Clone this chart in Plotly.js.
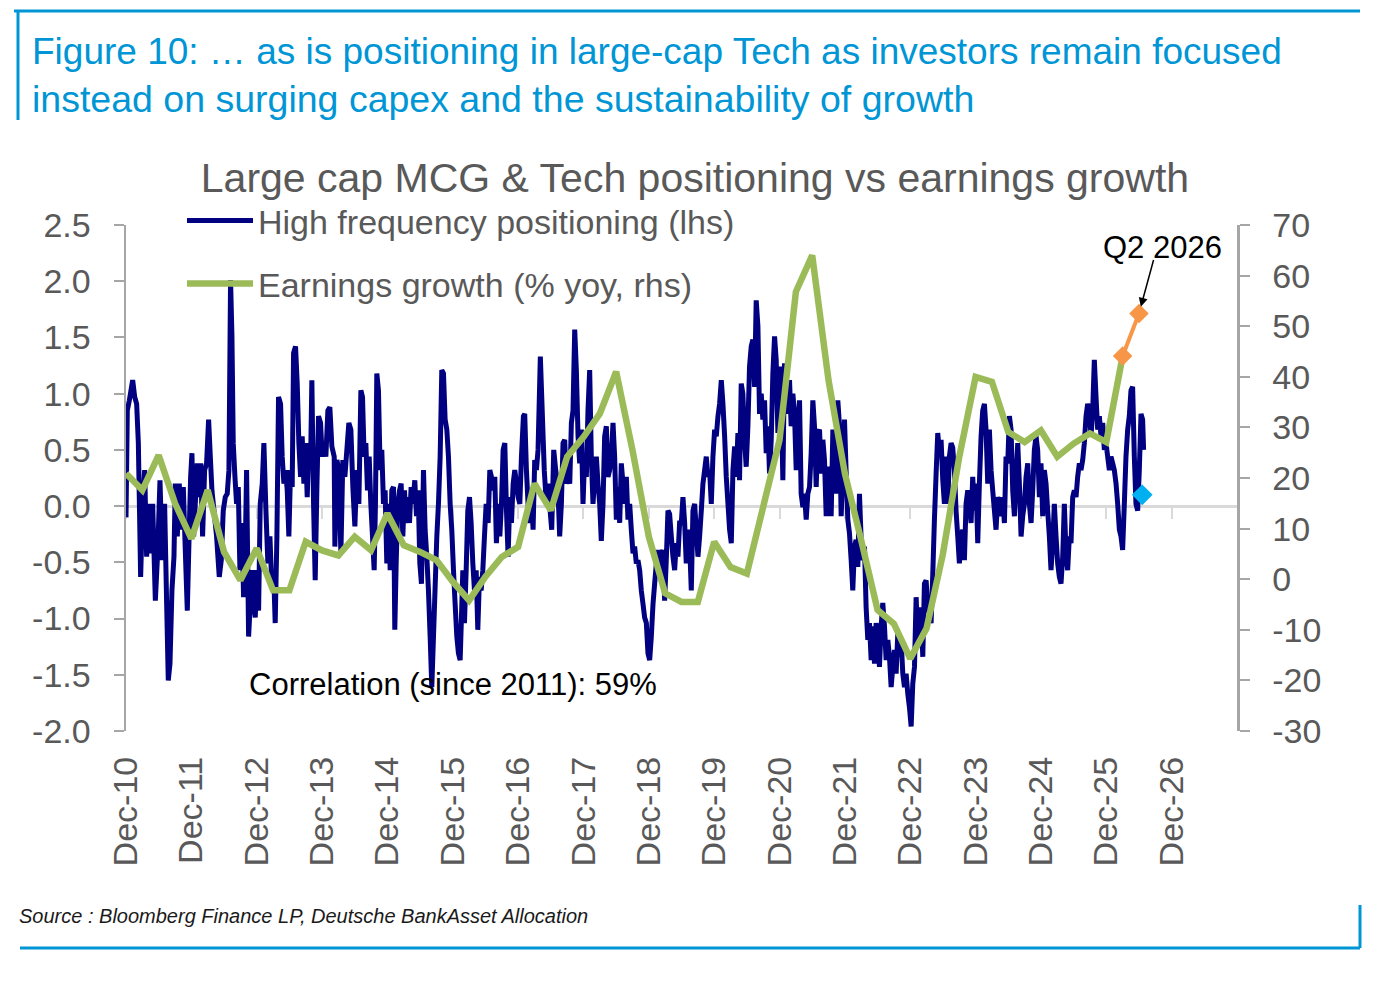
<!DOCTYPE html>
<html>
<head>
<meta charset="utf-8">
<script src="https://cdn.plot.ly/plotly-3.0.1.min.js"></script>
<style>
  html, body { margin: 0; padding: 0; background: #fff; }
  #chart { width: 1380px; height: 1008px; }
</style>
</head>
<body>
<div id="chart"></div>
<script>
// time axis: years since Dec-2010
const START_YEAR = 2010 + 11 / 12;

const TICK_LABELS = [
  'Dec-10', 'Dec-11', 'Dec-12', 'Dec-13', 'Dec-14', 'Dec-15', 'Dec-16', 'Dec-17',
  'Dec-18', 'Dec-19', 'Dec-20', 'Dec-21', 'Dec-22', 'Dec-23', 'Dec-24', 'Dec-25', 'Dec-26',
];
const LHS_TICKS = [-2, -1.5, -1, -0.5, 0, 0.5, 1, 1.5, 2, 2.5];
const RHS_TICKS = [-30, -20, -10, 0, 10, 20, 30, 40, 50, 60, 70];

// High frequency positioning (lhs)
const posT = [
  0.000, 0.020, 0.051, 0.102, 0.133, 0.163, 0.189, 0.224, 0.255, 0.285, 0.316, 0.347, 0.377, 0.408, 0.449, 0.484,
  0.520, 0.556, 0.591, 0.622, 0.647, 0.673, 0.703, 0.734, 0.754, 0.785, 0.815, 0.846, 0.877, 0.907, 0.938, 0.968,
  0.989, 1.009, 1.035, 1.060, 1.091, 1.116, 1.142, 1.172, 1.203, 1.233, 1.264, 1.290, 1.315, 1.346, 1.386, 1.427,
  1.458, 1.488, 1.519, 1.549, 1.575, 1.600, 1.621, 1.641, 1.667, 1.692, 1.718, 1.743, 1.774, 1.799, 1.825, 1.845,
  1.876, 1.901, 1.927, 1.952, 1.978, 2.003, 2.029, 2.054, 2.085, 2.110, 2.141, 2.171, 2.202, 2.232, 2.258, 2.283,
  2.309, 2.334, 2.365, 2.390, 2.416, 2.441, 2.467, 2.492, 2.518, 2.543, 2.564, 2.594, 2.620, 2.645, 2.671, 2.696,
  2.722, 2.747, 2.773, 2.798, 2.824, 2.844, 2.870, 2.895, 2.921, 2.946, 2.977, 3.002, 3.028, 3.058, 3.089, 3.119,
  3.150, 3.186, 3.196, 3.227, 3.257, 3.288, 3.318, 3.349, 3.410, 3.441, 3.471, 3.502, 3.532, 3.563, 3.594, 3.619,
  3.644, 3.670, 3.695, 3.721, 3.746, 3.772, 3.797, 3.817, 3.838, 3.863, 3.889, 3.914, 3.940, 3.965, 3.991, 4.016,
  4.042, 4.067, 4.093, 4.113, 4.134, 4.159, 4.185, 4.210, 4.236, 4.261, 4.287, 4.312, 4.338, 4.363, 4.389, 4.419,
  4.445, 4.470, 4.496, 4.521, 4.552, 4.577, 4.603, 4.628, 4.654, 4.679, 4.705, 4.730, 4.756, 4.781, 4.807, 4.832,
  4.858, 4.883, 4.909, 4.934, 4.960, 4.985, 5.011, 5.036, 5.062, 5.087, 5.113, 5.133, 5.154, 5.179, 5.205, 5.230,
  5.256, 5.281, 5.307, 5.332, 5.358, 5.383, 5.409, 5.434, 5.460, 5.485, 5.511, 5.541, 5.567, 5.592, 5.618, 5.643,
  5.668, 5.694, 5.720, 5.745, 5.771, 5.796, 5.822, 5.847, 5.873, 5.898, 5.924, 5.949, 5.975, 6.000, 6.026, 6.051,
  6.081, 6.101, 6.127, 6.152, 6.178, 6.203, 6.229, 6.254, 6.280, 6.305, 6.340, 6.400, 6.432, 6.463, 6.494, 6.514,
  6.545, 6.575, 6.606, 6.636, 6.662, 6.687, 6.713, 6.738, 6.764, 6.790, 6.815, 6.840, 6.866, 6.891, 6.917, 6.942,
  6.968, 6.993, 7.018, 7.044, 7.069, 7.095, 7.120, 7.146, 7.171, 7.197, 7.222, 7.248, 7.273, 7.299, 7.324, 7.350,
  7.375, 7.401, 7.426, 7.452, 7.477, 7.503, 7.528, 7.554, 7.579, 7.605, 7.630, 7.656, 7.681, 7.707, 7.732, 7.758,
  7.783, 7.809, 7.834, 7.860, 7.885, 7.911, 7.936, 7.962, 7.987, 8.013, 8.038, 8.064, 8.089, 8.115, 8.140, 8.166,
  8.191, 8.216, 8.242, 8.267, 8.293, 8.318, 8.344, 8.369, 8.395, 8.420, 8.446, 8.471, 8.497, 8.522, 8.548, 8.573,
  8.599, 8.624, 8.650, 8.675, 8.701, 8.726, 8.752, 8.777, 8.803, 8.828, 8.854, 8.879, 8.905, 8.930, 8.956, 8.981,
  9.007, 9.032, 9.058, 9.083, 9.109, 9.134, 9.160, 9.185, 9.211, 9.236, 9.262, 9.287, 9.313, 9.338, 9.363, 9.388,
  9.414, 9.439, 9.465, 9.490, 9.516, 9.541, 9.567, 9.592, 9.618, 9.643, 9.669, 9.694, 9.720, 9.745, 9.771, 9.796,
  9.822, 9.847, 9.873, 9.898, 9.924, 9.949, 9.975, 10.000, 10.025, 10.051, 10.076, 10.102, 10.127, 10.153, 10.178, 10.204,
  10.229, 10.255, 10.280, 10.306, 10.331, 10.357, 10.382, 10.408, 10.433, 10.459, 10.484, 10.510, 10.535, 10.561, 10.586, 10.612,
  10.637, 10.663, 10.688, 10.714, 10.739, 10.765, 10.790, 10.816, 10.841, 10.867, 10.892, 10.918, 10.943, 10.969, 10.994, 11.020,
  11.045, 11.070, 11.096, 11.121, 11.147, 11.172, 11.198, 11.223, 11.249, 11.274, 11.300, 11.325, 11.351, 11.376, 11.402, 11.427,
  11.453, 11.478, 11.504, 11.529, 11.555, 11.580, 11.606, 11.631, 11.657, 11.682, 11.708, 11.733, 11.759, 11.784, 11.810, 11.835,
  11.861, 11.886, 11.912, 11.937, 11.963, 11.988, 12.014, 12.039, 12.065, 12.090, 12.116, 12.141, 12.166, 12.192, 12.217, 12.243,
  12.268, 12.294, 12.319, 12.345, 12.370, 12.396, 12.421, 12.447, 12.472, 12.498, 12.523, 12.548, 12.574, 12.599, 12.625, 12.650,
  12.676, 12.701, 12.727, 12.752, 12.778, 12.803, 12.829, 12.854, 12.880, 12.905, 12.931, 12.956, 12.982, 13.007, 13.033, 13.058,
  13.084, 13.109, 13.135, 13.160, 13.186, 13.211, 13.237, 13.262, 13.288, 13.313, 13.339, 13.364, 13.390, 13.415, 13.441, 13.466,
  13.492, 13.517, 13.543, 13.568, 13.594, 13.619, 13.645, 13.670, 13.696, 13.721, 13.747, 13.772, 13.798, 13.823, 13.849, 13.874,
  13.899, 13.925, 13.950, 13.976, 14.001, 14.027, 14.052, 14.078, 14.103, 14.129, 14.154, 14.180, 14.205, 14.231, 14.256, 14.282,
  14.307, 14.333, 14.358, 14.384, 14.409, 14.435, 14.460, 14.486, 14.511, 14.537, 14.562, 14.588, 14.613, 14.639, 14.664, 14.690,
  14.715, 14.741, 14.766, 14.792, 14.817, 14.843, 14.868, 14.894, 14.919, 14.945, 14.970, 14.996, 15.021, 15.047, 15.072, 15.098,
  15.123, 15.149, 15.174, 15.200, 15.225, 15.250, 15.276, 15.301, 15.327, 15.352, 15.378, 15.403, 15.429, 15.454, 15.480, 15.505,
  15.531, 15.556, 15.571,
];
const posV = [
  -0.10, 0.85, 0.94, 1.12, 0.97, 0.91, 0.56, -0.63, 0.02, 0.32, -0.45, 0.02, -0.42, 0.02, -0.84, -0.42,
  0.23, -0.48, 0.02, -0.87, -1.55, -1.40, -0.75, -0.45, 0.20, -0.27, 0.20, -0.21, 0.17, -0.39, -0.93, -0.21,
  0.26, 0.47, -0.27, 0.02, 0.38, 0.08, 0.38, -0.27, 0.32, 0.38, 0.77, 0.44, 0.14, -0.04, -0.27, -0.63,
  -0.48, -0.04, 0.08, 0.11, 0.32, 2.01, 1.51, 0.56, 0.26, 0.02, 0.17, -0.57, -0.15, -0.81, -0.39, 0.32,
  -1.16, -0.87, -0.57, -0.87, -0.99, -0.57, -0.93, 0.02, 0.20, 0.56, -0.04, -0.51, -0.27, -0.72, -0.57, -1.04,
  -0.27, 0.97, 0.91, 0.44, 0.20, 0.32, 0.14, -0.27, 0.32, 0.17, 1.36, 1.42, 1.09, 0.56, 0.26, 0.62,
  0.20, 0.56, 0.08, 0.56, 0.38, 1.12, 0.02, -0.66, 0.17, 0.80, 0.74, 0.44, 0.56, 0.44, 0.85, 0.88,
  0.53, 0.44, -0.36, 0.41, 0.32, -0.42, 0.41, 0.26, 0.74, 0.68, 0.17, -0.18, 0.32, 0.02, 1.03, 0.97,
  0.44, 0.56, 0.14, 0.44, 0.02, -0.27, -0.57, 0.02, 1.18, 1.03, 0.32, 0.50, 0.02, 0.14, -0.51, 0.02,
  -0.57, 0.14, 0.17, -1.10, -0.51, 0.02, 0.14, 0.20, -0.27, 0.14, -0.15, 0.08, -0.15, 0.17, 0.02, 0.23,
  -0.09, 0.14, -0.51, -0.69, 0.32, -0.21, -0.45, -0.75, -1.16, -1.61, -1.16, -0.72, -0.27, 0.02, 0.44, 1.21,
  1.18, 0.77, 0.68, 0.44, 0.02, -0.21, -0.57, -0.87, -1.16, -1.31, -1.37, -0.99, -0.57, -1.04, -0.57, -0.04,
  0.08, -0.15, -0.51, -0.75, -0.57, -1.10, -0.63, -0.75, -0.57, -0.27, 0.02, -0.15, 0.32, 0.26, 0.14, 0.26,
  -0.33, 0.02, -0.27, 0.02, 0.50, 0.56, -0.04, -0.45, 0.08, -0.15, 0.20, 0.32, 0.20, 0.08, 0.02, 0.44,
  0.80, 0.82, 0.32, 0.02, -0.15, 0.08, -0.21, 0.41, 0.32, 0.50, 1.33, 0.32, 0.02, 0.20, -0.07, -0.21,
  0.50, 0.32, 0.20, -0.27, 0.02, 0.56, 0.59, 0.20, 0.26, 0.20, 0.74, 0.85, 1.57, 1.21, 0.62, 0.38,
  0.68, 0.02, 0.44, 0.26, 0.85, 1.21, 0.44, 0.02, 0.26, 0.44, 0.20, 0.02, -0.31, 0.02, 0.62, 0.71,
  0.26, 0.32, 0.44, 0.74, 0.44, -0.12, 0.17, -0.15, 0.38, 0.20, 0.02, 0.26, -0.12, 0.02, -0.21, -0.42,
  -0.36, -0.51, -0.48, -0.57, -0.75, -0.87, -0.99, -1.04, -1.31, -1.37, -1.16, -0.87, -0.69, -0.51, -0.39, -0.57,
  -0.45, -0.39, -0.84, -0.48, -0.04, -0.07, -0.27, -0.45, -0.57, -0.33, -0.45, -0.15, -0.15, 0.08, -0.15, -0.51,
  -0.21, -0.33, -0.75, -0.04, 0.02, -0.21, -0.45, -0.27, -0.04, 0.20, 0.32, 0.44, 0.26, 0.32, 0.02, 0.44,
  0.68, 0.62, 0.80, 0.91, 1.12, 0.91, 0.62, 0.26, 0.02, -0.21, -0.33, 0.32, 0.53, 0.26, 0.65, 0.23,
  1.09, 1.00, 0.59, 0.35, 0.71, 1.24, 1.42, 1.48, 1.06, 1.83, 1.60, 0.82, 1.00, 0.77, 0.94, 0.47,
  0.71, 0.29, 0.59, 1.18, 1.51, 1.30, 0.65, 1.24, 1.00, 0.23, 1.27, 1.00, 0.82, 1.12, 0.71, 1.00,
  0.82, 0.32, 0.71, 0.94, 0.11, -0.01, 0.11, -0.12, 0.11, 0.17, 0.47, 0.94, 0.71, 0.17, 0.65, 0.68,
  0.29, 0.59, 0.41, -0.09, 0.29, 0.35, -0.09, 0.68, 0.53, 0.11, 0.94, 0.71, -0.09, 0.29, 0.77, 0.29,
  -0.12, -0.24, -0.48, -0.75, -0.36, -0.30, -0.54, 0.11, -0.30, -0.48, -0.36, -0.90, -1.19, -1.04, -1.37, -1.07,
  -1.40, -1.04, -1.19, -1.43, -1.07, -0.86, -1.07, -1.37, -1.19, -1.34, -1.61, -1.43, -1.28, -1.49, -1.13, -1.34,
  -1.19, -1.49, -1.61, -1.49, -1.67, -1.79, -1.96, -1.58, -1.43, -0.81, -1.19, -1.04, -0.90, -1.34, -0.69, -0.66,
  -0.90, -0.96, -1.04, -0.60, -0.12, 0.29, 0.65, 0.47, 0.59, 0.23, 0.02, 0.44, 0.02, 0.44, 0.56, 0.52,
  0.32, -0.04, -0.27, -0.51, -0.27, -0.21, -0.48, 0.02, 0.14, 0.02, -0.15, 0.26, -0.04, 0.20, -0.33, 0.20,
  0.62, 0.85, 0.91, 0.68, 0.20, 0.68, 0.32, 0.14, -0.04, -0.21, 0.08, 0.02, -0.09, 0.08, -0.15, 0.44,
  0.38, 0.80, 0.68, 0.14, -0.09, 0.26, 0.56, 0.20, -0.27, -0.09, 0.02, 0.26, 0.38, 0.02, -0.15, 0.14,
  0.50, 0.62, 0.50, 0.08, 0.38, -0.09, 0.32, 0.20, -0.04, -0.27, -0.57, -0.33, 0.02, -0.27, -0.51, -0.63,
  -0.69, -0.45, 0.02, -0.42, -0.57, -0.27, -0.33, 0.08, 0.14, 0.08, 0.26, 0.38, 0.32, 0.41, 0.56, 0.80,
  0.91, 0.85, 0.62, 0.85, 1.30, 0.97, 0.68, 0.80, 0.62, 0.74, 0.50, 0.56, 0.44, 0.32, 0.44, 0.38,
  0.32, 0.20, 0.02, -0.21, -0.27, -0.39, 0.02, 0.44, 0.68, 0.80, 1.03, 1.06, 0.44, 0.02, -0.04, 0.32,
  0.82, 0.77, 0.50,
];

// Earnings growth (% yoy, rhs), quarterly
const earnT = [
  0, 0.25, 0.5, 0.75, 1, 1.25, 1.5, 1.75, 2, 2.25, 2.5, 2.75, 3, 3.25, 3.5, 3.75,
  4, 4.25, 4.5, 4.75, 5, 5.25, 5.5, 5.75, 6, 6.25, 6.5, 6.75, 7, 7.25, 7.5, 7.75,
  8, 8.25, 8.5, 8.75, 9, 9.25, 9.5, 9.75, 10, 10.25, 10.5, 10.75, 11, 11.25, 11.5, 11.75,
  12, 12.25, 12.5, 12.75, 13, 13.25, 13.5, 13.75, 14, 14.25, 14.5, 14.75, 15, 15.25,
];
const earnV = [
  20.9, 17.6, 24.5, 15.0, 8.0, 17.6, 5.4, -0.2, 6.1, -2.2, -2.2, 7.4, 5.7, 4.7, 8.4, 5.7,
  13.0, 6.7, 5.4, 3.8, -0.5, -4.2, 0.5, 4.4, 6.4, 18.9, 13.6, 24.2, 28.1, 32.7, 41.0, 25.5,
  8.4, -2.8, -4.5, -4.5, 7.4, 2.4, 1.1, 14.3, 27.5, 56.8, 64.0, 39.3, 20.9, 7.7, -6.1, -8.8,
  -15.7, -9.7, 5.0, 24.2, 40.0, 39.0, 29.1, 27.1, 29.4, 24.2, 26.8, 28.8, 27.1, 44.1,
];

// forecast earnings (orange) and latest positioning reading (light blue)
const fcstT = [15.25, 15.5];
const fcstV = [44.1, 52.5];
const lastPosT = [15.55];
const lastPosV = [0.1];

const FONT = '"Liberation Sans", Arial, Helvetica, sans-serif';
const GREY_TEXT = '#595959';
const AXIS_GREY = '#a6a6a6';
const DB_BLUE = '#0096d6';

// plot area in pixels (for placing text / frame only)
const PLOT = { l: 126, r: 1237, t: 225, b: 731 };

function toYear(t) {
  return t.map((el) => START_YEAR + el);
}

function px2x(px) {
  return (px - PLOT.l) / (PLOT.r - PLOT.l);
}

function py2y(py) {
  return (PLOT.b - py) / (PLOT.b - PLOT.t);
}

function frameLine(x0, y0, x1, y1) {
  return {
    type: 'line',
    xref: 'paper',
    yref: 'paper',
    x0: px2x(x0),
    y0: py2y(y0),
    x1: px2x(x1),
    y1: py2y(y1),
    line: { color: DB_BLUE, width: 3 },
  };
}

function textNote(text, px, py, size, color, xanchor) {
  return {
    text: text,
    xref: 'paper',
    yref: 'paper',
    x: px2x(px),
    y: py2y(py),
    xanchor: xanchor,
    yanchor: 'middle',
    showarrow: false,
    font: { family: FONT, size: size, color: color },
  };
}

const yearTicks = TICK_LABELS.map((el, i) => START_YEAR + i);
const xRange = [START_YEAR, START_YEAR + 17];

const traces = [
  {
    type: 'scatter',
    mode: 'lines',
    name: 'High frequency positioning (lhs)',
    x: toYear(posT),
    y: posV,
    line: { color: '#000080', width: 5, simplify: false },
    xaxis: 'x',
    yaxis: 'y',
    legend: 'legend',
    hoverinfo: 'skip',
  },
  {
    type: 'scatter',
    mode: 'lines',
    name: 'Earnings growth (% yoy, rhs)',
    x: toYear(earnT),
    y: earnV,
    line: { color: '#9bbb59', width: 6.5 },
    xaxis: 'x',
    yaxis: 'y2',
    legend: 'legend2',
    hoverinfo: 'skip',
  },
  {
    type: 'scatter',
    mode: 'lines+markers',
    x: toYear(fcstT),
    y: fcstV,
    line: { color: '#f79646', width: 4 },
    marker: { symbol: 'diamond', size: 15, color: '#f79646' },
    xaxis: 'x',
    yaxis: 'y2',
    showlegend: false,
    hoverinfo: 'skip',
  },
  {
    type: 'scatter',
    mode: 'markers',
    x: toYear(lastPosT),
    y: lastPosV,
    marker: { symbol: 'diamond', size: 16, color: '#00b0f0' },
    xaxis: 'x2',
    yaxis: 'y',
    showlegend: false,
    hoverinfo: 'skip',
  },
];

const layout = {
  width: 1380,
  height: 1008,
  paper_bgcolor: '#fff',
  plot_bgcolor: '#fff',
  font: { family: FONT, size: 34, color: GREY_TEXT },
  margin: { l: PLOT.l, r: 1380 - PLOT.r, t: PLOT.t, b: 1008 - PLOT.b, autoexpand: false },
  title: {
    text: 'Large cap MCG & Tech positioning vs earnings growth',
    x: 0.5036,
    xanchor: 'center',
    y: 1 - 178 / 1008,
    yanchor: 'middle',
    font: { family: FONT, size: 41, color: GREY_TEXT },
  },
  xaxis: {
    range: xRange,
    tickvals: yearTicks,
    ticktext: TICK_LABELS,
    tickangle: -90,
    ticks: '',
    showline: false,
    showgrid: false,
    zeroline: false,
    ticklabelstandoff: 18,
    tickfont: { family: FONT, size: 34, color: GREY_TEXT },
  },
  // axis line on the zero of the lhs, with small ticks
  xaxis2: {
    overlaying: 'x',
    anchor: 'free',
    position: 2 / 4.5,
    range: xRange,
    tickvals: yearTicks,
    showticklabels: false,
    ticks: 'outside',
    ticklen: 11,
    tickwidth: 2,
    tickcolor: '#d9d9d9',
    showline: true,
    linecolor: '#d9d9d9',
    linewidth: 2.5,
    showgrid: false,
    zeroline: false,
    layer: 'below traces',
  },
  yaxis: {
    range: [-2, 2.5],
    tickvals: LHS_TICKS,
    ticktext: LHS_TICKS.map((el) => el.toFixed(1)),
    ticks: 'outside',
    ticklen: 10,
    tickwidth: 2,
    tickcolor: AXIS_GREY,
    showline: true,
    linecolor: AXIS_GREY,
    linewidth: 2.5,
    showgrid: false,
    zeroline: false,
    ticklabelstandoff: 16,
    tickfont: { family: FONT, size: 34, color: GREY_TEXT },
  },
  yaxis2: {
    overlaying: 'y',
    side: 'right',
    range: [-30, 70],
    tickvals: RHS_TICKS,
    ticktext: RHS_TICKS.map((el) => String(el)),
    ticks: 'outside',
    ticklen: 10,
    tickwidth: 2,
    tickcolor: AXIS_GREY,
    showline: true,
    linecolor: AXIS_GREY,
    linewidth: 2.5,
    showgrid: false,
    zeroline: false,
    ticklabelstandoff: 16,
    tickfont: { family: FONT, size: 34, color: GREY_TEXT },
  },
  legend: {
    x: px2x(182),
    y: py2y(221),
    xanchor: 'left',
    yanchor: 'middle',
    bgcolor: 'rgba(0,0,0,0)',
    itemwidth: 66,
    font: { family: FONT, size: 34, color: GREY_TEXT },
  },
  legend2: {
    x: px2x(182),
    y: py2y(284),
    xanchor: 'left',
    yanchor: 'middle',
    bgcolor: 'rgba(0,0,0,0)',
    itemwidth: 66,
    font: { family: FONT, size: 34, color: GREY_TEXT },
  },
  shapes: [
    frameLine(14, 11, 1360, 11),
    frameLine(18, 11, 18, 120),
    frameLine(20, 948, 1360, 948),
    frameLine(1360, 905, 1360, 948),
  ],
  annotations: [
    textNote('Figure 10: … as is positioning in large-cap Tech as investors remain focused', 30, 51, 37, DB_BLUE, 'left'),
    textNote('instead on surging capex and the sustainability of growth', 30, 99, 37.5, DB_BLUE, 'left'),
    textNote('Correlation (since 2011): 59%', 247, 684, 31, '#000', 'left'),
    textNote('Q2 2026', 1162, 248, 31, '#000', 'center'),
    textNote('<i>Source : Bloomberg Finance LP, Deutsche BankAsset Allocation</i>', 17, 916, 20, '#1a1a1a', 'left'),
    {
      text: '',
      xref: 'x',
      yref: 'y2',
      x: START_YEAR + fcstT[1],
      y: fcstV[1],
      ax: 15,
      ay: -55,
      showarrow: true,
      arrowhead: 2,
      arrowsize: 1.2,
      arrowwidth: 1.5,
      arrowcolor: '#000',
      standoff: 7,
    },
  ],
};

Plotly.newPlot('chart', traces, layout, { displayModeBar: false, staticPlot: true });
</script>
</body>
</html>
